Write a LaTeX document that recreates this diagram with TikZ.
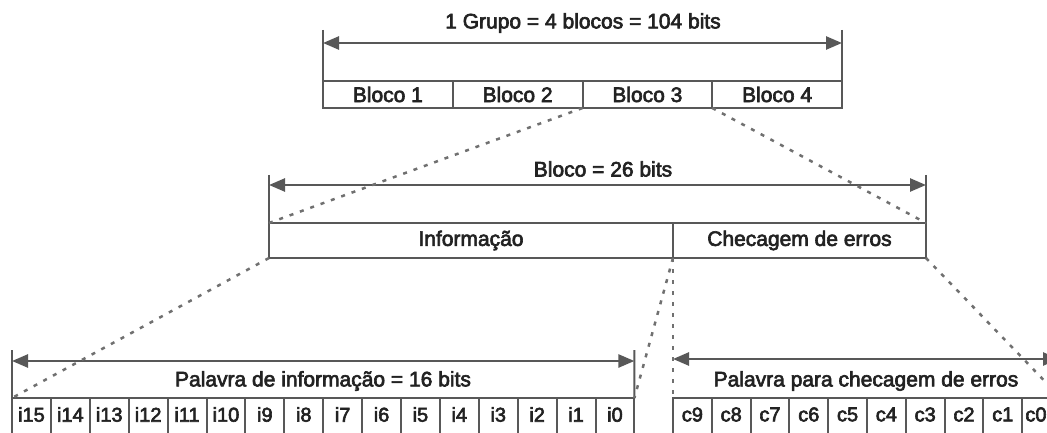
\documentclass[tikz,border=0pt]{standalone}
\usepackage{fontspec}
\setmainfont{Liberation Sans}
\newfontfamily\labelfont{Liberation Sans}[FakeBold=3]
\usetikzlibrary{arrows.meta}
\definecolor{linegray}{HTML}{585858}
\definecolor{dotgray}{HTML}{707070}
\definecolor{txt}{HTML}{222222}
\begin{document}
\begin{tikzpicture}[x=1pt,y=-1pt,
  frame/.style={draw=linegray, line width=2pt},
  cell/.style={draw=linegray, line width=2pt, rectangle, inner sep=0pt, outer sep=0pt},
  dim/.style={draw=linegray, line width=2.5pt,
    {Triangle[length=16pt,width=13pt]}-{Triangle[length=16pt,width=13pt]}},
  zoomline/.style={draw=dotgray, line width=2.5pt, dash pattern=on 4pt off 7pt},
  lbl/.style={font=\labelfont\fontsize{21}{23}\selectfont, text=txt, inner sep=0pt},
  bit/.style={font=\labelfont\fontsize{20}{22}\selectfont, text=txt, inner sep=0pt, anchor=center}
]
\useasboundingbox (0,0) rectangle (1047,433);
\clip (0,0) rectangle (1047,433);

% ---- group of four blocks ----
\foreach \k in {1,...,4}{
  \node[cell, minimum width=129.75pt, minimum height=27pt]
    (b\k) at ({323+129.75*(\k-0.5)},94.5) {};
  \node[lbl] at (b\k) {Bloco \k};
}
\coordinate (gtl) at (323,30);
\coordinate (gtr) at (842,30);
\coordinate (ga1) at (323,43);
\coordinate (ga2) at (842,43);
\draw[frame] (gtl) -- (b1.north west);
\draw[frame] (gtr) -- (b4.north east);
\draw[dim] (ga1) -- (ga2);
\node[lbl] (gtitle) at (583,23) {1 Grupo = 4 blocos = 104 bits};

% ---- one block: information + error check ----
\node[cell, minimum width=404pt, minimum height=35pt] (info) at (471,240.5) {};
\node[lbl] at (info) {Informação};
\node[cell, minimum width=253pt, minimum height=35pt] (chk) at (799.5,240.5) {};
\node[lbl] at (chk) {Checagem de erros};
\coordinate (mtl) at (269,175);
\coordinate (mtr) at (926,175);
\coordinate (ma1) at (269,185);
\coordinate (ma2) at (926,185);
\draw[frame] (mtl) -- (info.north west);
\draw[frame] (mtr) -- (chk.north east);
\draw[dim] (ma1) -- (ma2);
\node[lbl] (mtitle) at (603,169) {Bloco = 26 bits};

% ---- information word: i15 ... i0 ----
\foreach \k in {0,...,15}{
  \pgfmathtruncatemacro{\idx}{15-\k}
  \node[cell, minimum width=38.9pt, minimum height=44pt]
    (i\idx) at ({12+38.9*(\k+0.5)},420) {};
  \path (i\idx.north) ++(0,16.5) node[bit] {i\idx};
}
\coordinate (itl) at (12,350);
\coordinate (itr) at (634.4,350);
\coordinate (ia1) at (12,361);
\coordinate (ia2) at (634.4,361);
\draw[frame] (itl) -- (i15.north west);
\draw[frame] (itr) -- (i0.north east);
\draw[dim] (ia1) -- (ia2);
\node[lbl] at (323,381) {Palavra de informação = 16 bits};

% ---- check word: c9 ... c0 ----
\foreach \k in {0,...,9}{
  \pgfmathtruncatemacro{\idx}{9-\k}
  \node[cell, minimum width=38.8pt, minimum height=44pt]
    (c\idx) at ({673+38.8*(\k+0.5)},420) {};
}
\foreach \idx in {9,...,1}{
  \path (c\idx.north) ++(0,16.5) node[bit] {c\idx};
}
% the last cell runs past the edge, so its label sits at its left side
\path (c0.north west) ++(3,16.5) node[bit, anchor=west] {c0};
\coordinate (ctr) at (1061,350);
\coordinate (ca1) at (673,359);
\coordinate (ca2) at (1059,359);
\draw[frame] (ctr) -- (c0.north east);
\draw[dim] (ca1) -- (ca2);
\node[lbl] at (866,381) {Palavra para checagem de erros};

% ---- dotted expansion lines ----
\draw[zoomline] (b3.south west) -- (info.north west);
\draw[zoomline] (b3.south east) -- (chk.north east);
\draw[zoomline] (info.south west) -- (i15.north west);
\draw[zoomline] (info.south east) -- (i0.north east);
\draw[zoomline] (chk.south west) -- (c9.north west);
\draw[zoomline] (chk.south east) -- (c0.north east);
\end{tikzpicture}
\end{document}
